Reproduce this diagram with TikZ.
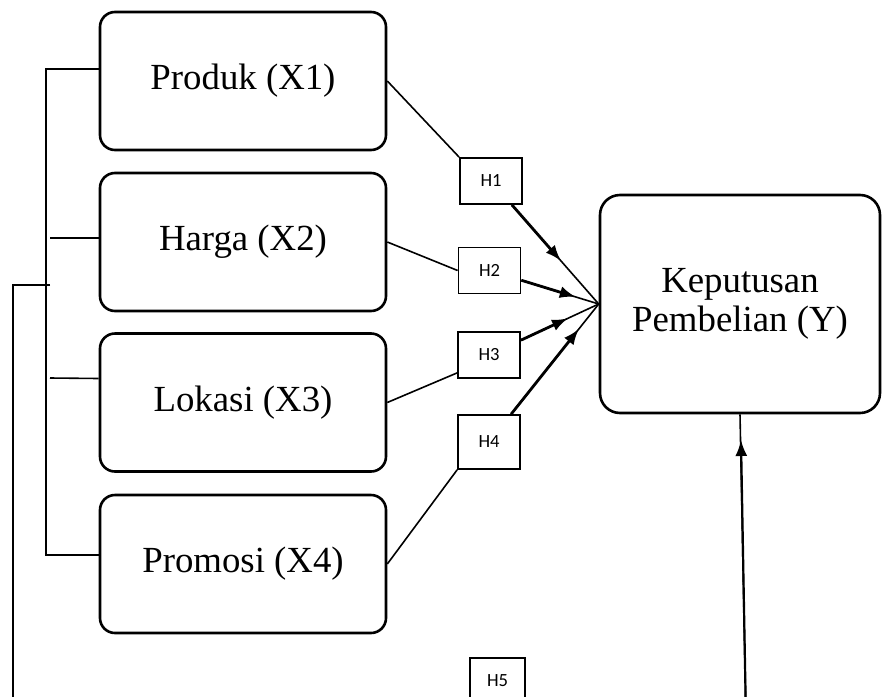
\documentclass[tikz,border=0pt]{standalone}
\usepackage{fontspec}
\setmainfont{Liberation Serif}
\newfontfamily\hfont{Carlito}
\usetikzlibrary{arrows.meta, calc}

\begin{document}
\begin{tikzpicture}[x=0.5pt, y=-0.5pt,
  var/.style={draw, line width=1.3pt, rounded corners=7.5pt, minimum width=143pt,
              minimum height=69pt, font=\fontsize{18.4}{19}\selectfont},
  hyp/.style={draw, line width=0.9pt, minimum width=31pt, minimum height=23pt,
              inner sep=1pt, font=\hfont\fontsize{9.3}{11}\selectfont},
  link/.style={line width=0.8pt},
  push/.style={line width=1.4pt, -{Latex[length=8pt,width=6pt]}}]
  \useasboundingbox (0,0) rectangle (882,696);
  \clip (0,0) rectangle (882,696);
  % Variables
  \node[var] (produk) at (243,81) {Produk (X1)};
  \node[var] (harga) at (243,242) {Harga (X2)};
  \node[var] (lokasi) at (243,402.5) {Lokasi (X3)};
  \node[var] (promosi) at (243,564) {Promosi (X4)};
  \node[var, minimum width=140pt, minimum height=109pt, rounded corners=10pt,
        align=center, font=\fontsize{18.4}{19.5}\selectfont]
        (keputusan) at (740,304) {Keputusan\\Pembelian (Y)};
  % Hypotheses
  \node[hyp] (h1) at (491,181) {H1};
  \node[hyp] (h2) at (489.5,270.5) {H2};
  \node[hyp] (h3) at (489,355) {H3};
  \node[hyp, minimum height=27pt] (h4) at (489,442) {H4};
  \node[hyp, minimum width=27.5pt] (h5) at (497.5,681) {H5};
  % Variables to hypotheses
  \draw[link] (produk.east) -- (h1.north west);
  \draw[link] (harga.east) -- (h2.west);
  \draw[link] (lokasi.east) -- ([yshift=3pt]h3.south west);
  \draw[link] (promosi.east) -- (h4.south west);
  % Hypotheses to Y
  \coordinate (t1) at ($(h1)!0.65!(keputusan.west)$);
  \coordinate (t2) at ($(h2)!0.79!(keputusan.west)$);
  \coordinate (t3) at ($(h3)!0.72!(keputusan.west)$);
  \coordinate (t4) at ($(h4)!0.82!(keputusan.west)$);
  \foreach \i in {1,...,4} {
    \draw[link] (h\i) -- (keputusan.west);
    \draw[push] (h\i) -- (t\i);
  }
  % Simultaneous
  \draw[link] ([yshift=6pt]produk.west) -- (46,69) -- (46,555)
    -- ([yshift=4.5pt]promosi.west);
  \draw[link] (50,238) -- ([yshift=2pt]harga.west);
  \draw[link] (50,378) -- ([yshift=12pt]lokasi.west);
  \coordinate (b0) at (50,285);
  \draw[link] (b0) -- (13,285) -- (13,720);
  \coordinate (y5) at (746,720);
  \coordinate (t5) at (741,440);
  \draw[link] (y5) -- (keputusan.south);
  \draw[push, line width=1.1pt] (y5) -- (t5);
\end{tikzpicture}
\end{document}
